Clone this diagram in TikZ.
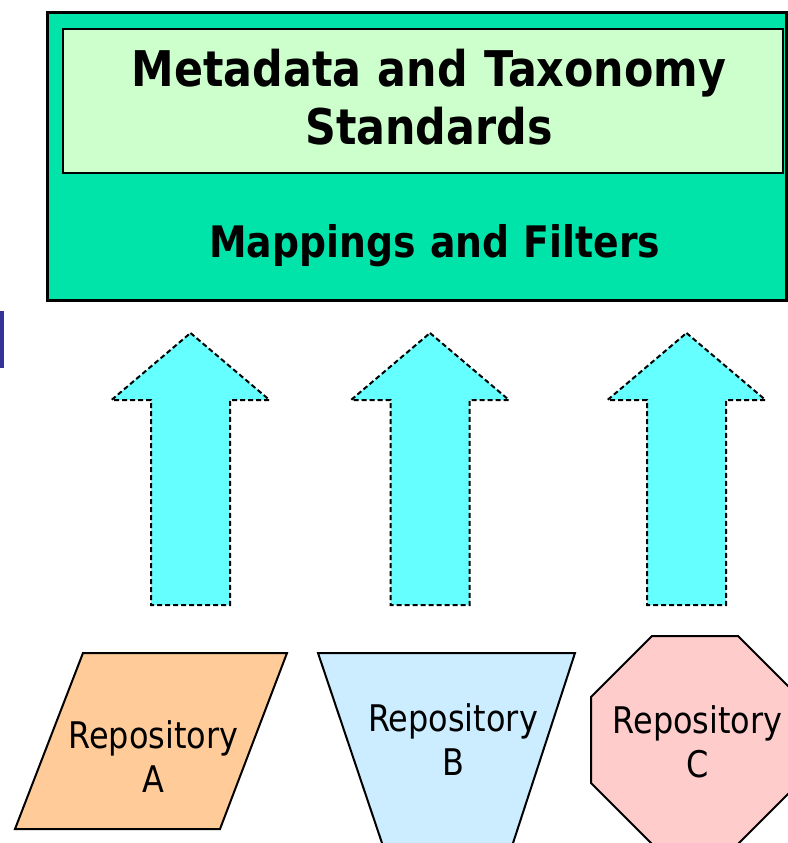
\documentclass[tikz,border=0pt]{standalone}
\usepackage{fontspec}
\newfontfamily\tah{DejaVu Sans}[FakeStretch=0.87]
\definecolor{outerfill}{RGB}{0,228,170}
\definecolor{innerfill}{RGB}{204,255,204}
\definecolor{arrowfill}{RGB}{102,255,255}
\definecolor{afill}{RGB}{255,204,153}
\definecolor{bfill}{RGB}{204,236,255}
\definecolor{cfill}{RGB}{255,204,204}
\definecolor{barblue}{RGB}{51,51,153}
\begin{document}
\begin{tikzpicture}[x=1pt,y=-1pt,
  boxstyle/.style={draw=black,inner sep=0pt,outer sep=0pt},
  blockarrow/.style={fill=arrowfill,draw=black,line width=2pt,dash pattern=on 5pt off 3pt,line join=miter},
  repshape/.style={draw=black,line width=2pt,line join=miter},
  reptext/.style={inner sep=0pt,anchor=base,text width=220pt,align=center,
    font={\tah\fontsize{36.7}{43.7}\selectfont}},
  titletext/.style={inner sep=0pt,anchor=base,text width=740pt,align=center,
    font={\tah\bfseries\fontsize{49.2}{58.3}\selectfont}},
  maptext/.style={inner sep=0pt,anchor=base,text width=600pt,align=center,
    font={\tah\bfseries\fontsize{43.4}{52}\selectfont}}]
\useasboundingbox (0,0) rectangle (787,843);

% top boxes
\node[boxstyle,fill=outerfill,line width=3pt,minimum width=739pt,minimum height=287pt] (outer) at (416.5,156.5) {};
\node[boxstyle,fill=innerfill,line width=2.5pt,minimum width=720pt,minimum height=144pt] (inner) at (423,101) {};
\node[titletext] (title) at (429,86.7) {Metadata and Taxonomy\\Standards};
\node[maptext] (maps) at (434.7,257.7) {Mappings and Filters};

% left blue bar
\fill[barblue] (0,311) rectangle (4,368);

% block arrows
\foreach \cx in {190.5,430,686.5}{
  \draw[blockarrow] (\cx,333) -- (\cx+79,400) -- (\cx+39.5,400) -- (\cx+39.5,605)
    -- (\cx-39.5,605) -- (\cx-39.5,400) -- (\cx-79,400) -- cycle;
}

% repository A: parallelogram
\draw[repshape,fill=afill] (83,653) -- (287,653) -- (220,829) -- (15,829) -- cycle;
\node[reptext] (repA) at (153.4,748.3) {Repository\\A};

% repository B: trapezoid (cut by page edge)
\draw[repshape,fill=bfill] (318,653) -- (575,653) -- (507.5,860) -- (387.7,860) -- cycle;
\node[reptext] (repB) at (453,731.7) {Repository\\B};

% repository C: octagon (cut by page edge)
\draw[repshape,fill=cfill] (652,636) -- (738,636) -- (799,697) -- (799,783) -- (738,844)
  -- (652,844) -- (591,783) -- (591,697) -- cycle;
\node[reptext] (repC) at (697.5,733.3) {Repository\\C};
\end{tikzpicture}
\end{document}
